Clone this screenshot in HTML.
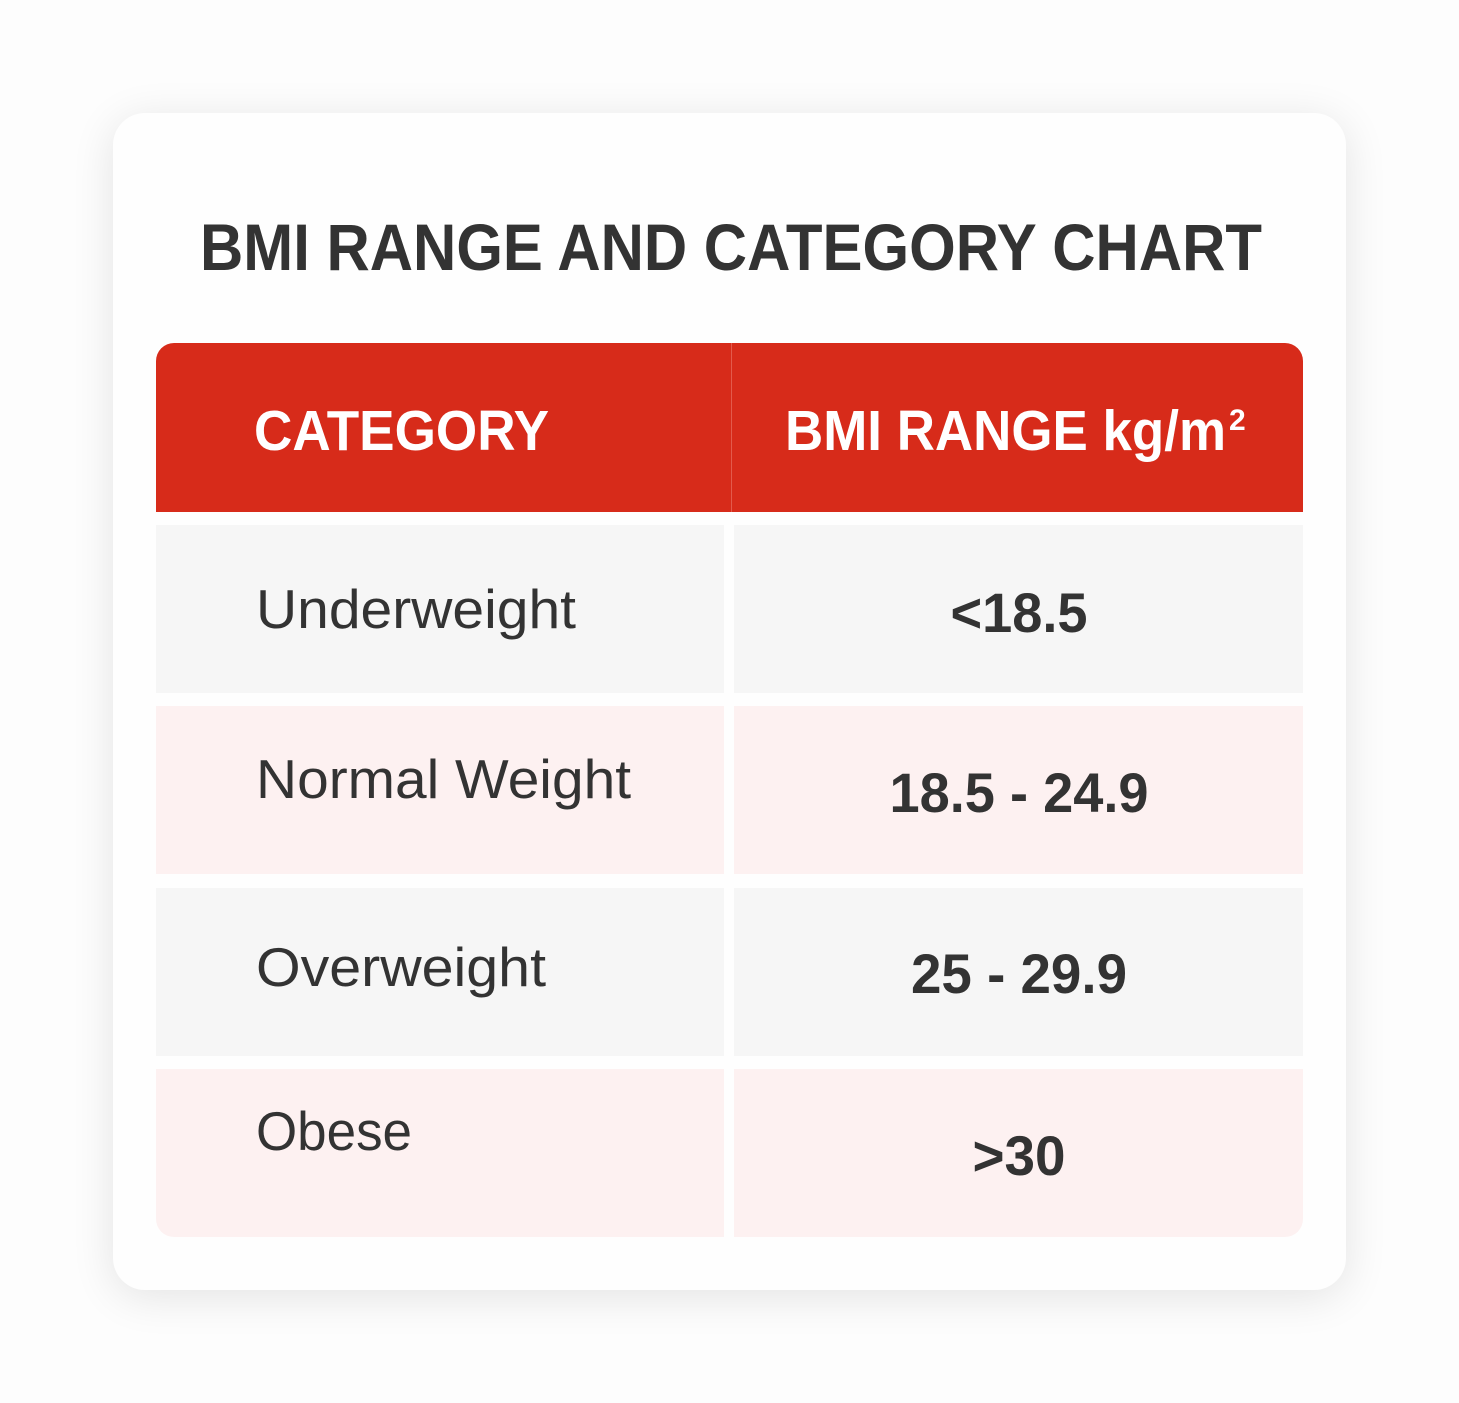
<!DOCTYPE html>
<html><head><meta charset="utf-8"><style>
html,body{margin:0;padding:0;background:#fdfdfd;width:1459px;height:1403px;overflow:hidden}
svg{display:block}
text{font-family:"Liberation Sans",sans-serif}
</style></head><body>
<svg width="1459" height="1403" viewBox="0 0 1459 1403">
<defs>
<filter id="sh" x="-20%" y="-20%" width="140%" height="140%"><feGaussianBlur stdDeviation="22"/></filter>
<clipPath id="tbl"><rect x="156" y="343" width="1147" height="894" rx="18"/></clipPath>
</defs>
<rect x="113" y="120" width="1233" height="1177" rx="32" fill="#000" opacity="0.10" filter="url(#sh)"/>
<rect x="113" y="113" width="1233" height="1177" rx="32" fill="#fefefe"/>
<text x="200" y="270" font-size="66" font-weight="bold" fill="#333" textLength="1062" lengthAdjust="spacingAndGlyphs">BMI RANGE AND CATEGORY CHART</text>
<g clip-path="url(#tbl)">
<rect x="156" y="343" width="1147" height="169" fill="#d72b1a"/>
<rect x="731" y="343" width="1" height="169" fill="#e35a4c"/>
<g id="rows"></g>
</g>
<text x="254" y="450" font-size="57" font-weight="bold" fill="#fff" textLength="295" lengthAdjust="spacingAndGlyphs">CATEGORY</text>
<text x="785" y="450" font-size="57" font-weight="bold" fill="#fff" textLength="441" lengthAdjust="spacingAndGlyphs">BMI RANGE kg/m</text>
<text x="1229" y="430" font-size="30" font-weight="bold" fill="#fff">2</text>
<g id="texts"></g>
</svg>
<script>
const categories=["Underweight","Normal Weight","Overweight","Obese"];
const ranges=["<18.5","18.5 - 24.9","25 - 29.9",">30"];
const catWidths=[320,375,290,156];
const rangeWidths=[137,259,216,93];
const rowTops=[525,706,888,1069];
const catBase=[628,798,986,1150];
const rangeBase=[632,812,993,1175];
const NS="http://www.w3.org/2000/svg";
const rows=document.getElementById('rows'),texts=document.getElementById('texts');
categories.forEach((c,i)=>{
  const fill=i%2?"#fdf1f1":"#f6f6f6";
  const l=document.createElementNS(NS,'rect');
  
  
  l.setAttribute('x',156);l.setAttribute('y',rowTops[i]);l.setAttribute('width',568);l.setAttribute('height',168);l.setAttribute('fill',fill);
  rows.appendChild(l);
  const r=document.createElementNS(NS,'rect');
  
  
  r.setAttribute('x',734);r.setAttribute('y',rowTops[i]);r.setAttribute('width',569);r.setAttribute('height',168);r.setAttribute('fill',fill);
  rows.appendChild(r);
  const t=document.createElementNS(NS,'text');
  
  
  t.setAttribute('x',256);t.setAttribute('y',catBase[i]);t.setAttribute('font-size',55);t.setAttribute('fill','#333');
  t.setAttribute('textLength',catWidths[i]);t.setAttribute('lengthAdjust','spacingAndGlyphs');
  t.textContent=c;texts.appendChild(t);
  const v=document.createElementNS(NS,'text');
  
  
  v.setAttribute('x',1019-rangeWidths[i]/2);v.setAttribute('y',rangeBase[i]);v.setAttribute('font-size',56);v.setAttribute('font-weight','bold');v.setAttribute('fill','#333');
  v.setAttribute('textLength',rangeWidths[i]);v.setAttribute('lengthAdjust','spacingAndGlyphs');
  v.textContent=ranges[i];texts.appendChild(v);
});
</script>
</body></html>
